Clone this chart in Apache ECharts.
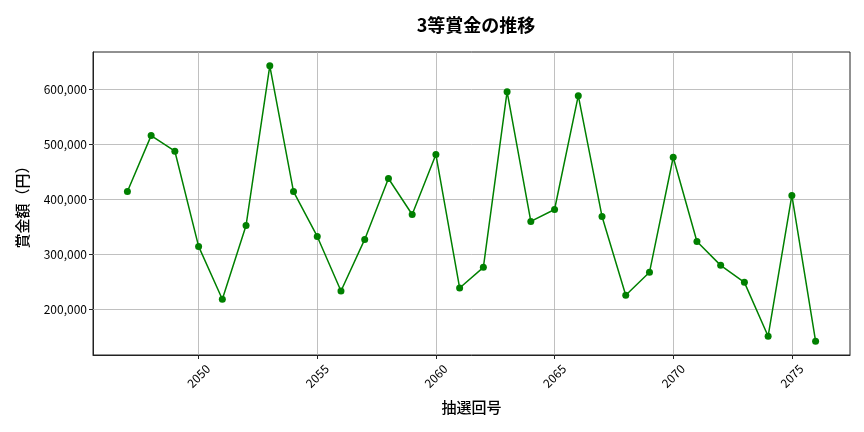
<!DOCTYPE html>
<html>
<head>
<meta charset="utf-8">
<script src="https://cdn.jsdelivr.net/npm/echarts@6/dist/echarts.min.js"></script>
<style>
html,body{margin:0;padding:0;background:#fff;}
#c{width:864px;height:432px;}
</style>
</head>
<body>
<div id="c"></div>
<script>
const drawNumbers = [2047,2048,2049,2050,2051,2052,2053,2054,2055,2056,2057,2058,2059,2060,2061,2062,2063,2064,2065,2066,2067,2068,2069,2070,2071,2072,2073,2074,2075,2076];
const prizeValues = [414500,516400,487900,314500,218200,352700,643600,414500,332700,233300,327300,438200,372700,481800,238800,276400,596400,360000,381800,589100,369100,225500,267300,477000,323600,280000,249100,150900,407300,141800];
const xTickValues = [2050,2055,2060,2065,2070,2075];
const yTickValues = [200000,300000,400000,500000,600000];

const xMin = 2045.55, xMax = 2077.45;
const yMin = 116700, yMax = 668700;

const font = '"Noto Sans CJK JP", "Noto Sans", sans-serif';
const gridColor = '#b0b0b0';

const gridLines = [];
xTickValues.forEach(v => gridLines.push({xAxis: v}));
yTickValues.forEach(v => gridLines.push({yAxis: v}));

const chart = echarts.init(document.getElementById('c'), null, {renderer: 'canvas'});
chart.setOption({
  animation: false,
  backgroundColor: '#ffffff',
  title: {
    text: '3等賞金の推移',
    left: 471, top: 11, textAlign: 'center',
    textStyle: {fontFamily: font, fontSize: 18, fontWeight: 'bold', color: '#000'}
  },
  grid: {
    left: 93, right: 14, top: 52, bottom: 77,
    show: true, borderColor: '#222', borderWidth: 1, backgroundColor: 'transparent'
  },
  xAxis: {
    type: 'value', min: xMin, max: xMax,
    name: '抽選回号', nameLocation: 'middle', nameGap: 45,
    nameTextStyle: {fontFamily: font, fontSize: 15, fontWeight: 500, color: '#000'},
    axisLine: {show: true, onZero: false, lineStyle: {color: '#222', width: 1}},
    axisTick: {show: true, customValues: xTickValues, length: 4, lineStyle: {color: '#222'}},
    axisLabel: {customValues: xTickValues, rotate: 45, fontFamily: font, fontSize: 12, color: '#000',
      margin: 21, align: 'center', verticalAlign: 'middle',
      formatter: v => String(v)},
    splitLine: {show: false}
  },
  yAxis: {
    type: 'value', min: yMin, max: yMax,
    name: '賞金額（円）', nameLocation: 'middle', nameGap: 63, nameRotate: 90,
    nameTextStyle: {fontFamily: font, fontSize: 15, fontWeight: 500, color: '#000'},
    axisLine: {show: true, onZero: false, lineStyle: {color: '#222', width: 1}},
    axisTick: {show: true, customValues: yTickValues, length: 4, lineStyle: {color: '#222'}},
    axisLabel: {customValues: yTickValues, fontFamily: font, fontSize: 12, color: '#000', margin: 6,
      formatter: v => v.toLocaleString('en-US')},
    splitLine: {show: false}
  },
  series: [
    {
      type: 'line',
      data: drawNumbers.map((d, i) => [d, prizeValues[i]]),
      symbol: 'circle', symbolSize: 7,
      lineStyle: {color: '#008000', width: 1.5},
      itemStyle: {color: '#008000'},
      z: 3,
      markLine: {
        silent: true, symbol: 'none', animation: false,
        label: {show: false},
        lineStyle: {color: gridColor, width: 0.8, type: 'solid'},
        data: gridLines,
        z: 1
      }
    }
  ]
});
</script>
</body>
</html>
